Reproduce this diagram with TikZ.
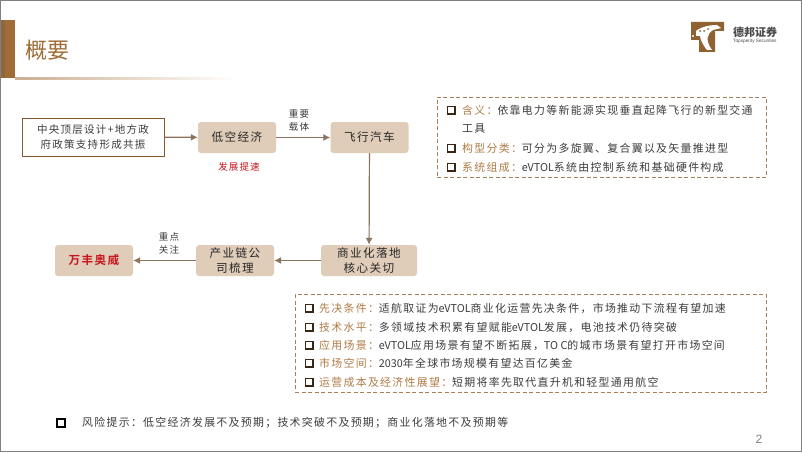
\documentclass[tikz,border=0pt]{standalone}
\usepackage{fontspec}
\setmainfont{Liberation Sans}
\newfontfamily\cjk[LetterSpace=12]{Noto Sans CJK SC}
\newfontfamily\cjkplain{Noto Sans CJK SC}
\newfontfamily\cjkbold[LetterSpace=12]{Noto Sans CJK SC Bold}
\usetikzlibrary{arrows.meta}
\definecolor{brownmain}{HTML}{A06C36}
\definecolor{boxfill}{HTML}{DFCDB9}
\definecolor{arrowc}{HTML}{8C735C}
\definecolor{dashc}{HTML}{A98057}
\definecolor{headc}{HTML}{AF7C45}
\definecolor{bodyc}{HTML}{3C3C3C}
\definecolor{redc}{HTML}{C8161D}
\tikzset{
  flowbox/.style={draw=none,fill=boxfill,rounded corners=3pt,minimum width=78pt,minimum height=31pt,inner sep=0pt,align=center,font=\cjk\fontsize{11.6}{15.5}\selectfont,text=black!85},
  policybox/.style={draw=brown!70!black,line width=0.9pt,fill=white,minimum width=142pt,minimum height=38pt,inner sep=0pt,align=center,font=\cjk\fontsize{10.5}{15}\selectfont,text=bodyc},
  flowarrow/.style={draw=arrowc,line width=1.2pt,-{Latex[length=7pt,width=7pt]}},
  smalllabel/.style={inner sep=0pt,align=center,font=\cjk\fontsize{9.5}{13}\selectfont,text=bodyc},
  dashbox/.style={draw=dashc,line width=0.8pt,dashed,dash pattern=on 4pt off 2.5pt},
  bullet/.style={draw=black!70!brown,line width=1.5pt,minimum size=7.5pt,inner sep=0pt},
  itemline/.style={anchor=west,inner sep=0pt,font=\cjk\fontsize{10.9}{12}\selectfont,text=bodyc},
}
\newcommand{\hd}[1]{\textcolor{headc}{#1}}
\newcommand{\la}[1]{{\cjkplain\fontsize{10.8}{12}\selectfont #1}}
\begin{document}
\begin{tikzpicture}[x=1pt,y=-1pt]
\useasboundingbox (0,0) rectangle (802,452);
\fill[white] (0,0) rectangle (802,452);
\draw[gray,line width=1pt] (0.5,0.5) rectangle (801.5,451.5);
% title band
\fill[brownmain] (1,20) rectangle (15,78);
\fill[black!45!brownmain!80,opacity=.45] (1,20) rectangle (5,78);
\shade[left color=brownmain!55,right color=white] (15,77.3) rectangle (236,79);
\node[anchor=west,inner sep=0pt,text=brownmain,font=\cjkplain\fontsize{22}{26}\selectfont] (title) at (25,50) {概要};
% logo
\fill[brownmain!90!black] (691,22) -- (724,22) -- (724,31) -- (715,31) -- (715,52) -- (699,52) -- (699,40) -- (691,40) -- cycle;
\fill[white] (696,31) .. controls (702,26) and (712,25) .. (717,25) -- (721,28) -- (713,30) .. controls (707,34) and (705,40) .. (712,50) -- (707,50) .. controls (702,44) and (700,38) .. (700,36) -- (696,36) -- cycle;
\fill[brownmain!90!black] (700,31) circle (1pt) (704,31) circle (1pt) (708,29) circle (1pt);
\fill[white] (693,36) circle (1.2pt);
\node[anchor=west,inner sep=0pt,text=black!70,font=\cjkplain\bfseries\fontsize{11}{13}\selectfont] (logocn) at (733,32) {德邦证券};
\node[anchor=west,inner sep=0pt,text=black!70,font=\fontsize{4.7}{5}\selectfont] (logoen) at (733,41) {Topsperity Securities};
% flow
\node[policybox] (policy) at (93,137) {中央顶层设计+地方政\\府政策支持形成共振};
\node[flowbox] (low) at (237,137.5) {低空经济};
\node[flowbox] (car) at (369.5,137.5) {飞行汽车};
\node[flowbox,minimum width=96pt] (comm) at (369,260.5) {商业化落地\\核心关切};
\node[flowbox] (chain) at (235,260.5) {产业链公\\司梳理};
\node[flowbox,text=redc,font=\cjkbold\fontsize{11.6}{15.5}\selectfont] (wf) at (94,260.5) {万丰奥威};
\draw[flowarrow] (policy) -- (low);
\draw[flowarrow] (low) -- (car);
\draw[flowarrow] (car) -- (comm);
\draw[flowarrow] (comm) -- (chain);
\draw[flowarrow] (chain) -- (wf);
\node[smalllabel] (l1) at (299,120.5) {重要\\载体};
\node[smalllabel,text=redc] (l2) at (239,167) {发展提速};
\node[smalllabel] (l3) at (169,243.5) {重点\\关注};
% box 1
\node[dashbox,minimum width=329pt,minimum height=80pt,inner sep=0pt] (d1) at (601.5,137) {};
\node[bullet] (b11) at (451,110) {};
\node[itemline] (t11) at (462,110) {\hd{含义：}依靠电力等新能源实现垂直起降飞行的新型交通};
\node[itemline] (t12) at (462,129) {工具};
\node[bullet] (b12) at (451,148) {};
\node[itemline] (t13) at (462,148) {\hd{构型分类：}可分为多旋翼、复合翼以及矢量推进型};
\node[bullet] (b13) at (451,167) {};
\node[itemline] (t14) at (462,167) {\hd{系统组成：}\la{eVTOL}系统由控制系统和基础硬件构成};
% box 2
\node[dashbox,minimum width=471pt,minimum height=98pt,inner sep=0pt] (d2) at (530.5,343) {};
\node[bullet] (b21) at (309,308) {};
\node[itemline] (t21) at (319,308) {\hd{先决条件：}适航取证为\la{eVTOL}商业化运营先决条件，市场推动下流程有望加速};
\node[bullet] (b22) at (309,327) {};
\node[itemline] (t22) at (319,327) {\hd{技术水平：}多领域技术积累有望赋能\la{eVTOL}发展，电池技术仍待突破};
\node[bullet] (b23) at (309,345) {};
\node[itemline] (t23) at (319,345) {\hd{应用场景：}\la{eVTOL}应用场景有望不断拓展，\la{TO C}的城市场景有望打开市场空间};
\node[bullet] (b24) at (309,363) {};
\node[itemline] (t24) at (319,363) {\hd{市场空间：}\la{2030}年全球市场规模有望达百亿美金};
\node[bullet] (b25) at (309,382) {};
\node[itemline] (t25) at (319,382) {\hd{运营成本及经济性展望：}短期将率先取代直升机和轻型通用航空};
% risk
\node[bullet,draw=black,line width=1.7pt] (b3) at (61,423) {};
\node[itemline] (t3) at (82,423) {风险提示：低空经济发展不及预期；技术突破不及预期；商业化落地不及预期等};
\node[anchor=center,inner sep=0pt,text=gray,font=\fontsize{12}{14}\selectfont] (pg) at (759,439) {2};
\end{tikzpicture}
\end{document}
